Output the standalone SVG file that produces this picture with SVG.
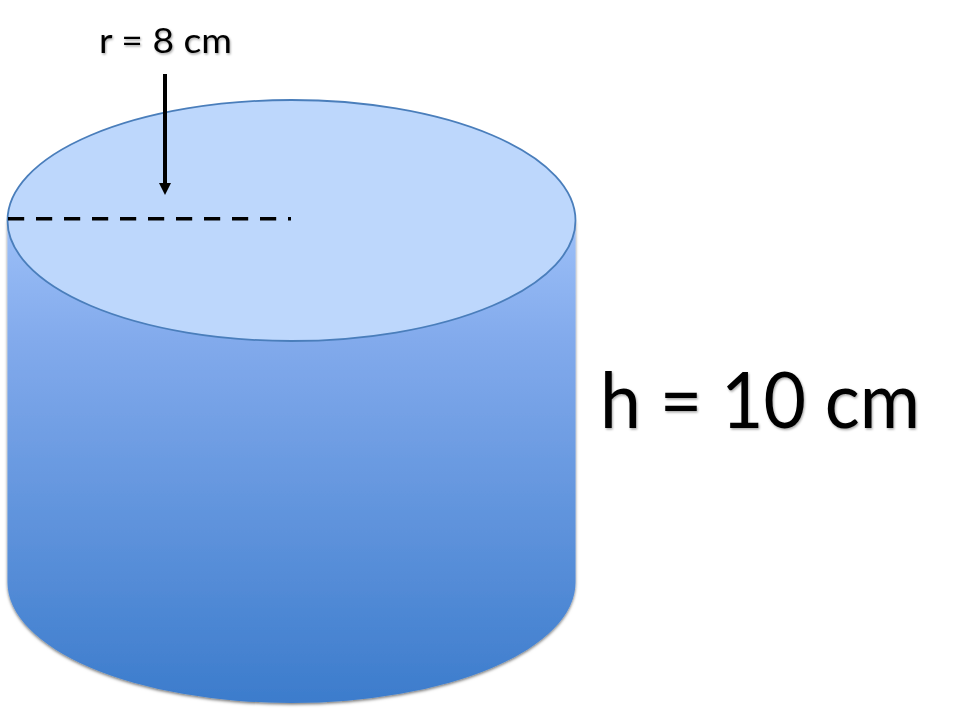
<svg xmlns="http://www.w3.org/2000/svg" width="980" height="714" viewBox="0 0 980 714">
<style>
text{font-family:"Lato","Open Sans","Liberation Sans",sans-serif;fill:#000}
.lab{filter:url(#ts)}
</style>
<defs>
<linearGradient id="body" gradientUnits="userSpaceOnUse" x1="0" y1="220" x2="0" y2="703">
<stop offset="0" stop-color="#9dc0f8"/><stop offset="0.25" stop-color="#82aaec"/><stop offset="1" stop-color="#3c7ccc"/>
</linearGradient>
<filter id="ts" x="-10%" y="-20%" width="120%" height="150%"><feDropShadow dx="1" dy="1.5" stdDeviation="1.2" flood-color="#000" flood-opacity="0.35"/></filter>
<filter id="bs" x="-5%" y="-5%" width="110%" height="110%"><feDropShadow dx="0" dy="1.5" stdDeviation="1.5" flood-color="#000" flood-opacity="0.55"/></filter>
<marker id="ah" markerUnits="userSpaceOnUse" markerWidth="12" markerHeight="12" refX="1" refY="6" orient="auto" viewBox="0 0 12 12"><path d="M0 0L12 6L0 12Z" fill="#000"/></marker>
</defs>
<g id="cylinder">
<path filter="url(#bs)" d="M7.5 220.5V582.5A284 120.5 0 0 0 575.5 582.5V220.5Z" fill="url(#body)"/>
<ellipse cx="291.5" cy="220.5" rx="284" ry="120.5" fill="#bdd7fc" stroke="#4a7ebb" stroke-width="1.8"/>
</g>
<g id="connectors">
<path d="M8 218.7H291" fill="none" stroke="#000" stroke-width="3.4" stroke-dasharray="16.2 11.8"/>
<path d="M165 74V184" fill="none" stroke="#000" stroke-width="4" marker-end="url(#ah)"/>
</g>
<g id="label-r"><text class="lab" x="99" y="53" font-size="35" textLength="133" lengthAdjust="spacingAndGlyphs">r = 8 cm</text></g>
<g id="label-h"><text class="lab" x="600" y="428" font-size="78" textLength="320" lengthAdjust="spacingAndGlyphs">h = 10 cm</text></g>
</svg>
